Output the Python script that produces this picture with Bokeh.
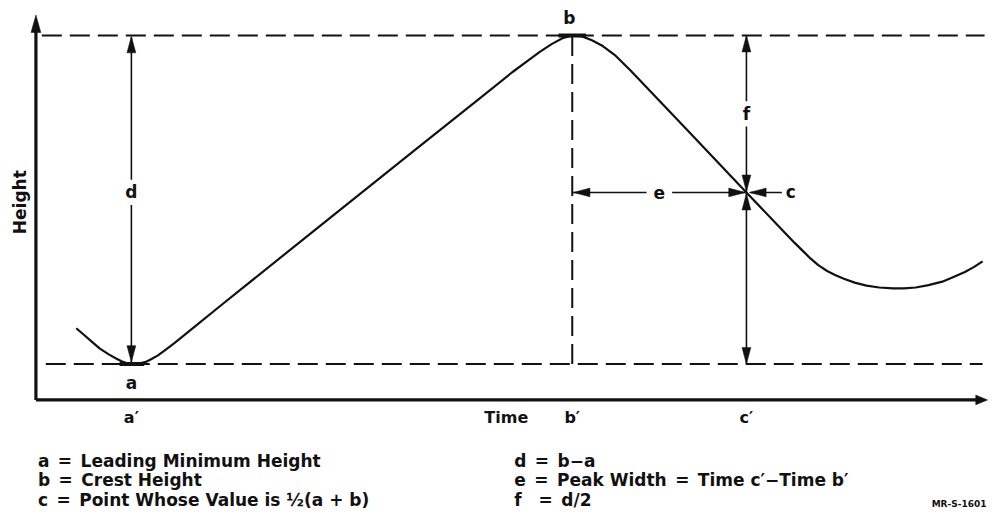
import math
from bokeh.plotting import figure
from bokeh.models import Range1d
from bokeh.core.properties import value
from bokeh.embed import file_html
from bokeh.resources import INLINE

# ---------------- data (schematic units: time along x, height along y) -------------
curve_time = [41, 49, 57, 65, 74, 81, 87, 92, 97, 104, 111, 117, 124, 132, 141, 157,
              191, 304, 384, 451, 484, 500, 512, 524, 535, 545, 555, 565, 576, 588,
              604, 664, 722, 754, 771, 779, 787, 795, 804, 812, 821, 832, 844, 857,
              871, 882, 894, 907, 921, 933, 944, 953, 962]
curve_height = [74, 67, 60, 53, 47, 43, 40, 38, 37, 37.5, 39, 42, 46, 52, 59, 72,
                100, 192, 257, 311, 338, 350, 359, 367, 373, 376, 375, 371, 365, 356,
                340, 276, 214, 180, 162, 154, 146, 139, 133, 129, 125, 121, 118, 116,
                115, 115, 116, 118.5, 122, 127, 132, 137, 143]

a_height = 37      # leading minimum height
b_height = 376     # crest height
c_height = 214     # point whose value is 1/2(a+b)
a_time = 97        # a'
b_time = 545       # b'
c_time = 722       # c'
time_axis_end = 967
height_axis_end = 397

tick_labels = ["a′", "b′", "c′"]
tick_times = [a_time, b_time, c_time]
axis_title_x = "Time"
axis_title_y = "Height"

SP = "\u2002"
legend_left = [f"a{SP}={SP}Leading Minimum Height", f"b{SP}={SP}Crest Height",
               f"c{SP}={SP}Point Whose Value is ½(a + b)"]
legend_right = [f"d{SP}={SP}b−a", f"e{SP}={SP}Peak Width{SP}={SP}Time c′−Time b′",
                f"f{SP}{SP}={SP}d/2"]
footnote = "MR-S-1601"

# ---------------- figure ----------------
W, H = 989, 510
p = figure(width=W, height=H, x_range=Range1d(-36, 969), y_range=Range1d(-114, 412),
           output_backend="svg", toolbar_location=None, min_border=0,
           x_axis_type=None, y_axis_type=None, outline_line_color=None,
           background_fill_color="white", border_fill_color="white")
p.grid.visible = False

INK = "#111111"
FONT = value("DejaVu Sans")

heads_x, heads_y = [], []


def head(tx, ty, dx, dy, length=17, half=4.5):
    bx, by = tx - dx * length, ty - dy * length
    nx, ny = -dy, dx
    heads_x.append([tx, bx + nx * half, bx - nx * half])
    heads_y.append([ty, by + ny * half, by - ny * half])


# dashed reference lines
dash_start = 6
p.segment(x0=[dash_start, dash_start + 4, b_time], y0=[b_height, a_height, a_height],
          x1=[964, 962, b_time], y1=[b_height, a_height, b_height],
          line_color=INK, line_width=2, line_dash="20 8")

# axes
p.segment(x0=[0, 0], y0=[0, 0], x1=[0, time_axis_end - 8], y1=[height_axis_end - 12, 0],
          line_color=INK, line_width=3.2)
head(0, height_axis_end, 0, 1, length=18, half=5)
head(time_axis_end, 0, 1, 0, length=12, half=5)

# curve
p.line(curve_time, curve_height, line_color=INK, line_width=2.2, line_join="round")
# emphasised minimum / crest
p.segment(x0=[a_time - 12, b_time - 14], y0=[a_height, b_height],
          x1=[a_time + 13, b_time + 14], y1=[a_height, b_height],
          line_color=INK, line_width=4)

# dimension arrows
gap = 13
d_mid = c_height
f_mid = (b_height + c_height) / 2
e_mid = (b_time + c_time) / 2
sx0 = [a_time, a_time, c_time, c_time, c_time, b_time, e_mid + gap, c_time + 4]
sy0 = [b_height - 2, a_height + 2, b_height, c_height, c_height, c_height, c_height, c_height]
sx1 = [a_time, a_time, c_time, c_time, c_time, e_mid - gap, c_time, c_time + 36]
sy1 = [d_mid + gap, d_mid - gap, f_mid + gap, f_mid - gap, a_height, c_height, c_height, c_height]
p.segment(x0=sx0, y0=sy0, x1=sx1, y1=sy1, line_color=INK, line_width=1.6)

head(a_time, b_height - 1, 0, 1)
head(a_time, a_height + 2, 0, -1)
head(c_time, b_height, 0, 1)
head(c_time, c_height + 1, 0, -1)
head(c_time, c_height - 1, 0, 1)
head(c_time, a_height, 0, -1)
head(b_time + 1, c_height, -1, 0)
head(c_time - 1, c_height, 1, 0)
head(c_time + 3, c_height, -1, 0)

p.patches(heads_x, heads_y, fill_color=INK, line_color=INK, line_width=0.5)

# letters on the diagram
lab_x = [b_time - 3, a_time, a_time, c_time, e_mid, c_time + 45]
lab_y = [b_height + 18, a_height - 19, d_mid, f_mid, c_height, c_height]
lab_t = ["b", "a", "d", "f", "e", "c"]
p.text(lab_x, lab_y, text=lab_t, text_font=FONT, text_font_style="bold",
       text_font_size="17px", text_align="center", text_baseline="middle", text_color=INK)

# axis titles and time marks
p.text([-16], [204], text=[axis_title_y], angle=math.pi / 2, text_font=FONT,
       text_font_style="bold", text_font_size="17px", text_align="center",
       text_baseline="middle", text_color=INK)
p.text([478], [-18], text=[axis_title_x], text_font=FONT, text_font_style="bold",
       text_font_size="16px", text_align="center", text_baseline="middle", text_color=INK)
p.text(tick_times, [-18] * 3, text=tick_labels, text_font=FONT, text_font_style="bold",
       text_font_size="16px", text_align="center", text_baseline="middle", text_color=INK)

# legend text
rows = [-63, -83, -103]
p.text([2] * 3, rows, text=legend_left, text_font=FONT, text_font_style="bold",
       text_font_size="17px", text_align="left", text_baseline="middle", text_color=INK)
p.text([486] * 3, rows, text=legend_right, text_font=FONT, text_font_style="bold",
       text_font_size="17px", text_align="left", text_baseline="middle", text_color=INK)
p.text([966], [-102], text=[footnote], text_font=FONT, text_font_style="bold",
       text_font_size="9px", text_align="right", text_baseline="top", text_color=INK)

open("out.html", "w").write(file_html(p, INLINE))
